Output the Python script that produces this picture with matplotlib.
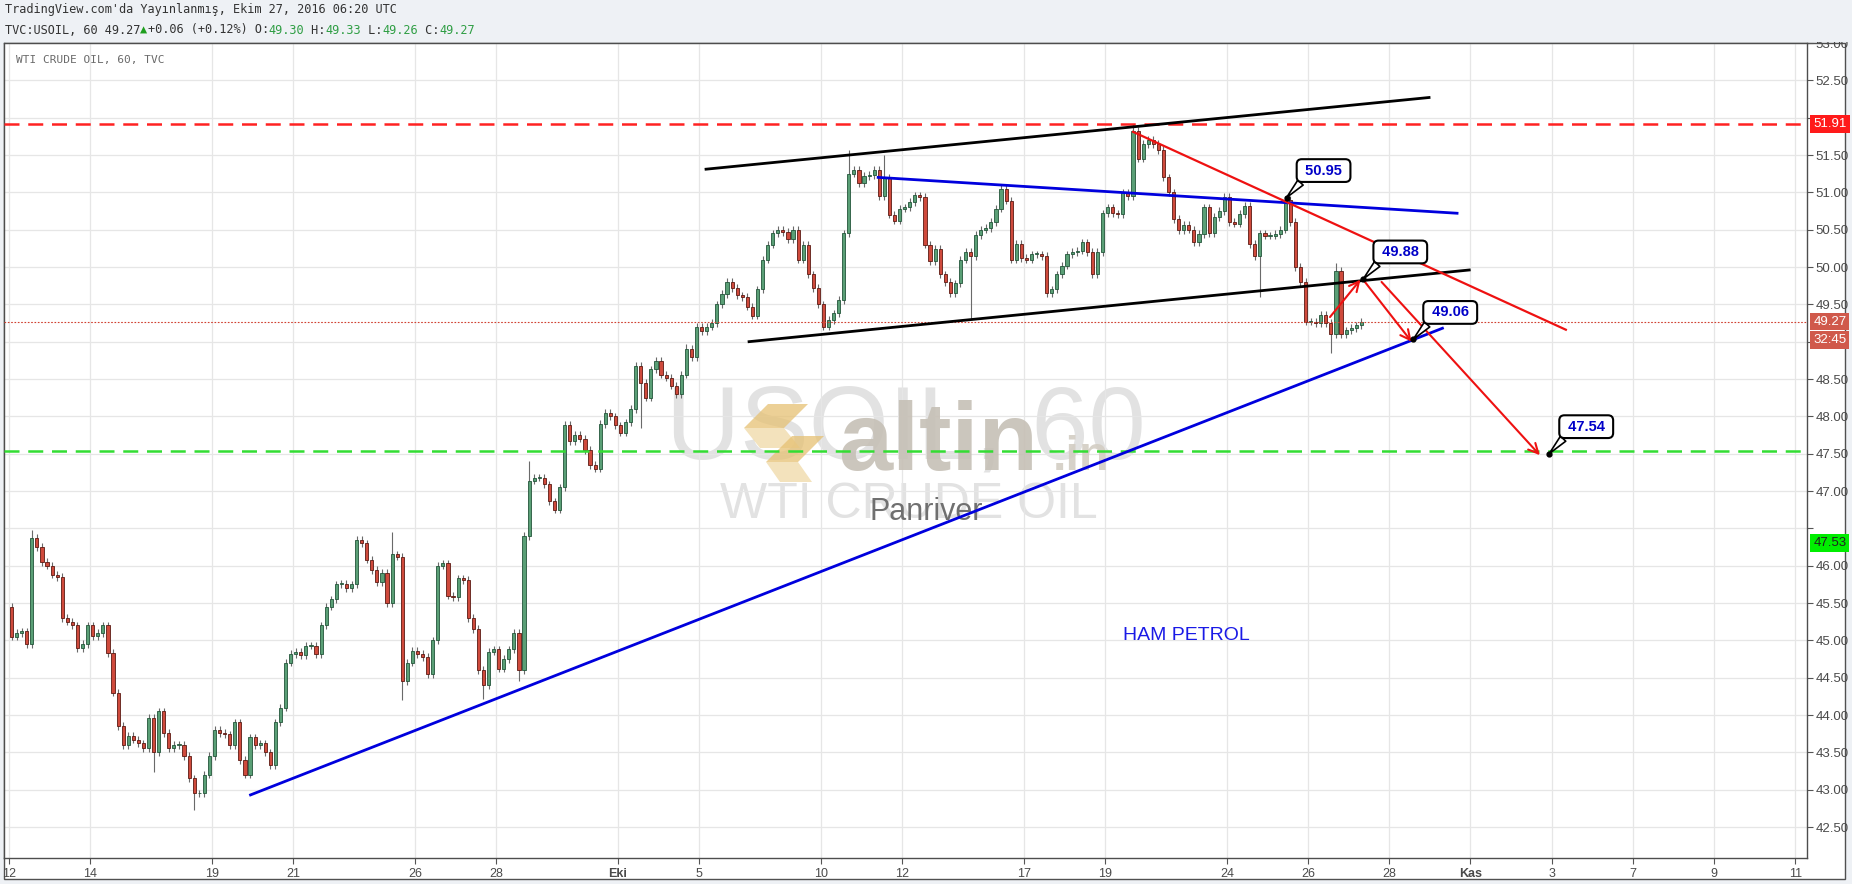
import matplotlib
matplotlib.use("Agg")
import matplotlib.pyplot as plt
from matplotlib.patches import Rectangle, Polygon
from matplotlib.transforms import blended_transform_factory
import numpy as np

W, H, DPI = 1852, 884, 100

# ---- USOIL 60 data ----
# x = trading day index (0 = 12 Eylül 2016), 8 bars per day (3h each)
bars_per_day = 8
first_open = 45.45
closes = [
    45.05, 45.10, 45.12, 44.95, 46.37, 46.25, 46.05, 46.00,   # 12 Sep
    45.88, 45.85, 45.30, 45.25, 45.20, 44.90, 44.95, 45.20,
    45.06, 45.10, 45.20, 44.83, 44.30, 43.85, 43.60, 43.72,
    43.67, 43.62, 43.56, 43.96, 43.50, 44.05, 43.76, 43.56,
    43.60, 43.60, 43.45, 43.15, 42.95, 42.95, 43.20, 43.45,
    43.80, 43.76, 43.74, 43.60, 43.90, 43.40, 43.20, 43.70,   # 19 Sep
    43.60, 43.62, 43.50, 43.33, 43.90, 44.10, 44.70, 44.82,
    44.85, 44.80, 44.93, 44.93, 44.82, 45.20, 45.45, 45.55,
    45.75, 45.76, 45.70, 45.75, 46.35, 46.30, 46.08, 45.94,
    45.78, 45.90, 45.50, 46.15, 46.12, 44.45, 44.70, 44.86,
    44.82, 44.78, 44.55, 45.00, 46.00, 46.03, 45.60, 45.58,   # 26 Sep
    45.83, 45.81, 45.30, 45.15, 44.60, 44.40, 44.85, 44.88,
    44.62, 44.75, 44.88, 45.10, 44.60, 46.40, 47.14, 47.18,
    47.18, 47.09, 46.86, 46.75, 47.05, 47.89, 47.67, 47.75,
    47.70, 47.55, 47.35, 47.30, 47.90, 48.05, 48.00, 47.88,
    47.78, 47.92, 48.10, 48.68, 48.45, 48.25, 48.63, 48.74,   # 3 Oct
    48.56, 48.52, 48.41, 48.30, 48.56, 48.90, 48.79, 49.20,
    49.14, 49.20, 49.25, 49.50, 49.64, 49.80, 49.72, 49.62,
    49.60, 49.47, 49.35, 49.70, 50.10, 50.30, 50.45, 50.50,
    50.47, 50.37, 50.50, 50.10, 50.30, 49.90, 49.72, 49.50,
    49.20, 49.29, 49.38, 49.56, 50.45, 51.25, 51.30, 51.12,   # 10 Oct
    51.22, 51.23, 51.30, 50.95, 51.20, 50.70, 50.62, 50.78,
    50.80, 50.87, 50.96, 50.94, 50.30, 50.08, 50.24, 49.90,
    49.80, 49.65, 49.78, 50.10, 50.20, 50.15, 50.43, 50.50,
    50.52, 50.60, 50.78, 51.05, 50.89, 50.10, 50.31, 50.12,
    50.10, 50.17, 50.17, 50.15, 49.65, 49.70, 49.90, 50.02,   # 17 Oct
    50.17, 50.20, 50.22, 50.33, 50.20, 49.90, 50.20, 50.72,
    50.80, 50.72, 50.71, 51.00, 50.95, 51.82, 51.45, 51.65,
    51.70, 51.65, 51.57, 51.20, 51.00, 50.64, 50.49, 50.56,
    50.50, 50.33, 50.44, 50.80, 50.45, 50.67, 50.75, 50.94,
    50.60, 50.58, 50.71, 50.82, 50.31, 50.15, 50.45, 50.42,   # 24 Oct
    50.42, 50.44, 50.50, 50.90, 50.60, 50.00, 49.80, 49.27,
    49.27, 49.25, 49.36, 49.25, 49.10, 49.95, 49.10, 49.15,
    49.18, 49.22, 49.27,
]
# long wicks: (day, slot) -> price
spike_highs = {(0, 4): 46.48, (9, 3): 46.45, (12, 6): 47.40, (16, 5): 48.97,
               (20, 5): 51.57, (21, 4): 51.50, (27, 5): 51.91, (32, 5): 50.05}
spike_lows = {(3, 4): 43.24, (4, 4): 42.73, (9, 5): 44.20, (11, 5): 44.22,
              (12, 4): 44.45, (15, 4): 47.85, (23, 5): 49.30, (30, 6): 49.60,
              (32, 4): 48.85}

tick_days = [0, 2, 5, 7, 10, 12, 15, 17, 20, 22, 25, 27, 30, 32, 34, 36, 38, 40, 42, 44]
tick_labels = ["12", "14", "19", "21", "26", "28", "Eki", "5", "10", "12",
               "17", "19", "24", "26", "28", "Kas", "3", "7", "9", "11"]

# drawn lines: ([day0, day1], [price0, price1])
channel_top = ([17.17, 34.98], [51.31, 52.27])
channel_bottom = ([18.23, 35.97], [49.00, 49.96])
blue_upper = ([21.41, 35.67], [51.20, 50.72])
blue_support = ([5.95, 35.31], [42.93, 49.18])
red_down = ([27.69, 38.35], [51.81, 49.16])
red_arrows = [((32.54, 49.33), (33.29, 49.83)),
              ((33.40, 49.80), (34.55, 49.00)),
              ((33.81, 49.80), (37.71, 47.48))]
callouts = [(31.47, 50.93, "50.95"), (33.36, 49.84, "49.88"),
            (34.59, 49.03, "49.06"), (37.94, 47.50, "47.54")]
resistance, support, last_price = 51.91, 47.53, 49.27

# ---- figure ----
fig = plt.figure(figsize=(W / DPI, H / DPI), dpi=DPI, facecolor="#eef1f5")
fig.patches.append(Rectangle((4 / W, (H - 879) / H), 1841 / W, 836 / H,
                             transform=fig.transFigure, fc="white", ec="#505050",
                             lw=1, zorder=-1))
ax = fig.add_axes([4 / W, (H - 858) / H, 1803 / W, 815 / H])
ax.set_xlim(-0.123, 44.29)
ax.set_ylim(42.085, 53.0)

# grid
ax.set_xticks(tick_days)
ax.set_xticklabels(tick_labels)
for lab in ax.get_xticklabels():
    if lab.get_text() in ("Eki", "Kas"):
        lab.set_fontweight("bold")
yt = np.arange(42.5, 53.01, 0.5)
ax.set_yticks(yt)
ax.set_yticklabels(["" if round(v, 2) in (52.0, 49.0, 46.5) else f"{v:.2f}" for v in yt])
ax.yaxis.tick_right()
ax.grid(True, color="#e6e6e6", lw=0.9, zorder=0)
ax.set_axisbelow(True)
ax.tick_params(axis="both", colors="#555555", labelcolor="#4a4a4a", direction="out",
               length=4, width=0.8)
ax.tick_params(axis="y", labelsize=9.5, pad=2)
ax.tick_params(axis="x", labelsize=9, pad=3)
for lab in ax.get_xticklabels() + ax.get_yticklabels():
    lab.set_family("Liberation Sans")
for s in ax.spines.values():
    s.set_color("#4d4d4d")
    s.set_linewidth(1)

# watermark + logo (axes fraction)
def px(x, y):
    return ((x - 4) / 1803, (858 - y) / 815)

ax.text(*px(906, 432), "USOIL, 60", transform=ax.transAxes, fontsize=74,
        family="Liberation Sans", color="#e2e2e2", ha="center", va="center", zorder=0.5)
ax.text(*px(909, 505), "WTI CRUDE OIL", transform=ax.transAxes, fontsize=36,
        family="Liberation Sans", color="#e2e2e2", ha="center", va="center", zorder=0.5)
logo = [[(768, 404), (808, 404), (784, 428), (744, 428)],
        [(744, 428), (784, 428), (800, 448), (760, 448)],
        [(792, 436), (824, 436), (798, 462), (766, 462)],
        [(766, 462), (798, 462), (812, 482), (780, 482)]]
for i, poly in enumerate(logo):
    ax.add_patch(Polygon([px(*p) for p in poly], closed=True, transform=ax.transAxes,
                         fc="#e6c173" if i % 2 == 0 else "#efd9a6", ec="none",
                         alpha=0.75, zorder=1))
ax.text(*px(838, 470), "altin", transform=ax.transAxes, fontsize=70, fontweight="bold",
        family="Liberation Sans", color="#c6c0b6", alpha=0.9, ha="left", va="baseline", zorder=1)
ax.text(*px(1053, 470), ".in", transform=ax.transAxes, fontsize=35, fontweight="bold",
        family="Liberation Sans", color="#d3cdc3", alpha=0.9, ha="left", va="baseline", zorder=1)
ax.text(*px(870, 520), "Panriver", transform=ax.transAxes, fontsize=22,
        family="Liberation Sans", color="#707070", ha="left", va="baseline", zorder=1)
ax.text(*px(1186, 636), "HAM PETROL", transform=ax.transAxes, fontsize=14,
        family="Liberation Sans", color="#1a1ae6", ha="center", va="center", zorder=2)
ax.text(12 / 1803, 1 - 12 / 815, "WTI CRUDE OIL, 60, TVC", transform=ax.transAxes,
        fontsize=8, family="DejaVu Sans Mono", color="#6a6a6a", ha="left", va="top")

# candles
wick = 0.05
xs, opens, highs, lows = [], [], [], []
prev = first_open
for i, c in enumerate(closes):
    day, slot = divmod(i, bars_per_day)
    xs.append(day + (slot + 0.5) / bars_per_day)
    opens.append(prev)
    highs.append(spike_highs.get((day, slot), max(prev, c) + wick))
    lows.append(spike_lows.get((day, slot), min(prev, c) - wick))
    prev = c
xs, opens, cl = np.array(xs), np.array(opens), np.array(closes)
up = cl >= opens
ax.vlines(xs, lows, highs, color="#6a6a6a", lw=0.8, zorder=2)
bw = 0.62 / bars_per_day
ax.bar(xs[up], np.maximum(cl[up] - opens[up], 0.012), bottom=opens[up], width=bw,
       color="#5a9f76", edgecolor="#23553a", lw=0.6, zorder=3)
ax.bar(xs[~up], np.maximum(opens[~up] - cl[~up], 0.012), bottom=cl[~up], width=bw,
       color="#cf4a3c", edgecolor="#5b1a13", lw=0.6, zorder=3)

# horizontal levels
ax.axhline(resistance, color="#ff2222", lw=1.8, dashes=(6, 3.5), zorder=4)
ax.axhline(support, color="#33dd33", lw=1.8, dashes=(6, 3.5), zorder=4)
ax.axhline(last_price, color="#d04030", lw=0.8, dashes=(1.5, 1.5), zorder=4)

# trend lines
ax.plot(*channel_top, color="black", lw=2, zorder=4)
ax.plot(*channel_bottom, color="black", lw=2, zorder=4)
ax.plot(*blue_upper, color="#0000dd", lw=2, zorder=4)
ax.plot(*blue_support, color="#0000dd", lw=2, zorder=4)
ax.plot(*red_down, color="#ee1111", lw=1.6, zorder=4)
for start, end in red_arrows:
    ax.annotate("", xy=end, xytext=start, zorder=5,
                arrowprops=dict(arrowstyle="->,head_length=0.7,head_width=0.35",
                                color="#ee1111", lw=1.5, shrinkA=0, shrinkB=0))

# callouts
for d, p, txt in callouts:
    ax.annotate(" " + txt + " ", xy=(d, p), xytext=(37, 27), textcoords="offset pixels",
                ha="center", va="center", fontsize=10.5, fontweight="bold",
                family="Liberation Sans", color="#0000c8", zorder=6,
                bbox=dict(boxstyle="round,pad=0.3,rounding_size=0.35", fc="white",
                          ec="black", lw=1.5),
                arrowprops=dict(arrowstyle="wedge,tail_width=0.5,shrink_factor=0.5",
                                fc="white", ec="black", lw=1.2, relpos=(0.12, 0.1),
                                shrinkA=0, shrinkB=0))
    ax.plot(d, p, "o", ms=3.5, color="black", zorder=7)

# price axis badges
tr = blended_transform_factory(ax.transAxes, ax.transData)
for yv, txt, bg, fg in [(resistance, "51.91", "#ff1a1a", "white"),
                        (last_price, "49.27", "#d0594b", "white"),
                        (49.02, "32:45", "#d0594b", "white"),
                        (46.30, "47.53", "#00ee00", "#222222")]:
    ax.text(1.0035, yv, txt, transform=tr, fontsize=9.5, family="Liberation Sans",
            color=fg, ha="left", va="center", clip_on=False, zorder=6,
            bbox=dict(boxstyle="square,pad=0.22", fc=bg, ec="none"))

# header (covers top of the first price label like the original)
fig.patches.append(Rectangle((0, (H - 42) / H), 1, 42 / H, transform=fig.transFigure,
                             fc="#eef1f5", ec="none", zorder=5))
mono = ["DejaVu Sans Mono", "DejaVu Sans"]
fs = 8.6
r = fig.canvas.get_renderer()
probe = fig.text(0, 0, "M" * 20, fontsize=fs, family=mono)
cw = probe.get_window_extent(renderer=r).width / 20
probe.remove()
fig.text(5 / W, 1 - 10 / H, "TradingView.com'da Yayınlanmış, Ekim 27, 2016 06:20 UTC",
         fontsize=fs, family=mono, color="#333333", va="center", zorder=6)
dark, green = "#333333", "#2f9e44"
pieces = [("TVC:USOIL, 60 49.27", dark), ("▲", "#1e9e1e"), ("+0.06 (+0.12%) O:", dark),
          ("49.30", green), (" H:", dark), ("49.33", green), (" L:", dark),
          ("49.26", green), (" C:", dark), ("49.27", green)]
n = 0
for txt, col in pieces:
    fig.text((5 + n * cw) / W, 1 - 30 / H, txt, fontsize=fs, family=mono, color=col,
             va="center", zorder=6)
    n += len(txt)

fig.savefig("out.png", dpi=DPI, facecolor=fig.get_facecolor())
